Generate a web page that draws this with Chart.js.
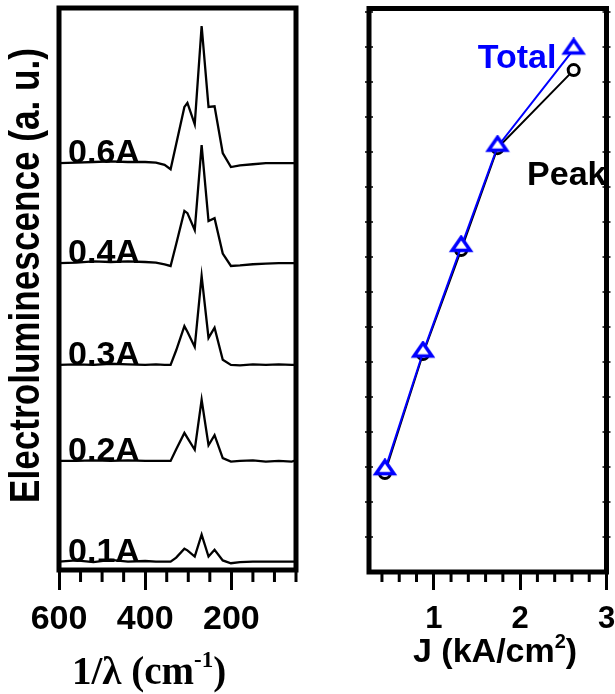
<!DOCTYPE html>
<html>
<head>
<meta charset="utf-8">
<script src="https://cdn.jsdelivr.net/npm/chart.js@4.4.1/dist/chart.umd.min.js"></script>
<style>
  html, body { margin: 0; padding: 0; background: #fff; }
  #wrap { position: relative; width: 615px; height: 694px; overflow: hidden; }
  #left { position: absolute; left: 0; top: 0; width: 320px; height: 694px; }
  #right { position: absolute; left: 340px; top: 0; width: 275px; height: 694px; }
</style>
</head>
<body>
<div id="wrap">
  <canvas id="left" width="320" height="694"></canvas>
  <canvas id="right" width="275" height="694"></canvas>
</div>
<script>
/* ── DATA: left panel, EL spectra (offset for clarity) ── */
const wavenumbers = [600, 560, 520, 480, 440, 400, 375, 355, 341, 328, 309, 302, 285, 269, 253, 239, 220, 201, 180, 150, 120, 90, 60, 50];
const currents = ['0.1A', '0.2A', '0.3A', '0.4A', '0.6A'];
const offsets = [1.5, 19.4, 36.5, 54.6, 72.4];
const el01 = [0, 0.2, -0.1, 0.3, 0, 0.1, 0, 0, 0, 0.7, 2.3, 2.0, 0.9, 4.8, 0.9, 2.1, 0.2, -0.3, -0.1, 0, 0, 0, 0, 0];
const el02 = [0, 0, 0.1, 0, 0.1, 0, 0, 0, 0, 2.1, 5.0, 4.1, 2.0, 10.9, 2.8, 4.6, 0.5, -0.1, 0, 0.1, -0.1, 0, -0.1, 0.1];
const el03 = [0, 0.1, 0, 0.2, 0.1, 0, 0.1, 0, 0, 2.6, 6.9, 5.9, 3.2, 15.8, 4.8, 6.6, 0.9, 0, -0.1, 0.1, 0, 0.1, 0, 0];
const el04 = [0, 0.1, 0.3, 0.2, 0.3, 0.2, 0.1, -0.2, -0.5, 3.4, 9.3, 8.9, 5.9, 21.0, 7.5, 8.0, 1.7, -0.5, -0.4, -0.2, -0.1, 0, 0, 0];
const el06 = [0, 0.1, 0.2, 0.3, 0.2, 0.2, 0.1, -0.3, -1.1, 3.4, 10.0, 10.7, 6.9, 24.4, 10.0, 10.1, 1.8, -0.7, -0.4, -0.2, 0, 0, 0, 0];
const spectra = [el01, el02, el03, el04, el06];
const xTicksLeft = [600, 400, 200];
const xMinorLeft = [550, 500, 450, 350, 300, 250, 150, 100, 50];

/* ── DATA: right panel, EL vs current density ── */
const currentDensity = [0.434, 0.875, 1.317, 1.738, 2.62];
const totalEL = [2.91, 6.27, 9.29, 12.15, 14.93];
const peakEL = [2.83, 6.23, 9.2, 12.11, 14.34];
const xTicksRight = [1, 2, 3];
const xMinorRight = [0.4, 0.6, 0.8, 1.2, 1.4, 1.6, 1.8, 2.2, 2.4, 2.6, 2.8];
const yTicksRight = [1, 2, 3, 4, 5, 6, 7, 8, 9, 10, 11, 12, 13, 14, 15, 16];

const SANS = '"Liberation Sans", Arial, sans-serif';
const SERIF = '"Liberation Serif", "Times New Roman", serif';

/* ── open, slightly flattened triangle marker ── */
function triangleMarker(color) {
  const c = document.createElement('canvas');
  c.width = 26; c.height = 24;
  const g = c.getContext('2d');
  g.lineWidth = 3.5;
  g.strokeStyle = color;
  g.fillStyle = '#fff';
  g.beginPath();
  g.moveTo(13, 2.5);
  g.lineTo(22, 15.5);
  g.lineTo(4, 15.5);
  g.closePath();
  g.fill();
  g.stroke();
  return c;
}

/* ── thick frame + minor ticks ── */
function framePlugin(minorX, minorLen, yTicks) {
  return {
    id: 'frame',
    afterDraw(chart) {
      const { ctx, chartArea: a, scales: { x, y } } = chart;
      ctx.save();
      ctx.strokeStyle = '#000';
      ctx.lineWidth = 3;
      ctx.beginPath();
      minorX.forEach(v => {
        const px = x.getPixelForValue(v);
        ctx.moveTo(px, a.bottom);
        ctx.lineTo(px, a.bottom + minorLen);
      });
      ctx.stroke();
      ctx.lineWidth = 1.5;
      ctx.beginPath();
      yTicks.forEach(v => {
        const py = y.getPixelForValue(v);
        ctx.moveTo(a.left - 4, py); ctx.lineTo(a.left + 4, py);
        ctx.moveTo(a.right - 4, py); ctx.lineTo(a.right + 4, py);
      });
      ctx.stroke();
      ctx.lineWidth = 5;
      ctx.strokeRect(a.left, a.top, a.right - a.left, a.bottom - a.top);
      ctx.restore();
    }
  };
}

/* ── in-plot text labels placed in data coordinates ── */
function labelPlugin(items) {
  return {
    id: 'labels',
    afterDatasetsDraw(chart) {
      const { ctx, scales: { x, y } } = chart;
      ctx.save();
      ctx.textBaseline = 'alphabetic';
      items.forEach(it => {
        ctx.font = 'bold 34px ' + SANS;
        ctx.fillStyle = it.color;
        ctx.textAlign = it.align;
        ctx.fillText(it.text, x.getPixelForValue(it.x), y.getPixelForValue(it.y));
      });
      ctx.restore();
    }
  };
}

/* ── text with superscript pieces ── */
function drawRich(ctx, parts, x, y) {
  let cx = x;
  parts.forEach(p => {
    ctx.font = p.font;
    ctx.fillText(p.t, cx, y + (p.dy || 0));
    cx += ctx.measureText(p.t).width;
  });
}

function titlePlugin(drawFn) {
  return {
    id: 'titles',
    afterDraw(chart) {
      const ctx = chart.ctx;
      ctx.save();
      ctx.fillStyle = '#000';
      ctx.textBaseline = 'alphabetic';
      ctx.textAlign = 'left';
      drawFn(ctx);
      ctx.restore();
    }
  };
}

function xScale(min, max, reverse, ticks, height, tickLength, padding, fontSize) {
  return {
    type: 'linear', min, max, reverse,
    afterBuildTicks: s => { s.ticks = ticks.map(v => ({ value: v })); },
    afterFit: s => { s.height = height; s.paddingLeft = 0; s.paddingRight = 0; },
    grid: { drawOnChartArea: false, drawTicks: true, tickLength, tickWidth: 3, tickColor: '#000' },
    border: { display: false },
    ticks: { color: '#000', padding, maxRotation: 0, autoSkip: false,
             font: { family: SANS, size: fontSize, weight: 'bold' } },
  };
}

/* ── Left: spectra ── */
new Chart(document.getElementById('left'), {
  type: 'line',
  data: {
    datasets: spectra.map((s, i) => ({
      label: currents[i],
      data: wavenumbers.map((w, j) => ({ x: w, y: s[j] + offsets[i] })),
      borderColor: '#000',
      borderWidth: 2.3,
      pointRadius: 0,
      tension: 0,
      fill: false,
    })),
  },
  options: {
    responsive: false,
    animation: false,
    layout: { padding: { left: 59, right: 24, top: 8, bottom: 0 } },
    plugins: { legend: { display: false }, tooltip: { enabled: false } },
    scales: {
      x: xScale(50, 600, true, xTicksLeft, 124, 20, 9, 34),
      y: { display: false, min: 0, max: 100 },
    },
  },
  plugins: [
    labelPlugin(currents.map((c, i) => ({ text: c, x: 579, y: offsets[i], color: '#000', align: 'left' }))),
    framePlugin(xMinorLeft, 12, []),
    titlePlugin(ctx => {
      ctx.save();
      ctx.translate(27.5, 275.5);
      ctx.rotate(-Math.PI / 2);
      ctx.scale(0.817, 1);
      ctx.font = 'bold 43px ' + SANS;
      ctx.textAlign = 'center';
      ctx.textBaseline = 'middle';
      ctx.fillText('Electroluminescence (a. u.)', 0, 0);
      ctx.restore();
      drawRich(ctx, [
        { t: '1/\u03bb (cm', font: 'bold 39px ' + SERIF },
        { t: '-1', font: 'bold 23px ' + SERIF, dy: -17 },
        { t: ')', font: 'bold 39px ' + SERIF },
      ], 72, 684);
    }),
  ],
});

/* ── Right: total / peak EL vs J ── */
new Chart(document.getElementById('right'), {
  type: 'line',
  data: {
    datasets: [
      {
        label: 'Total',
        data: currentDensity.map((j, i) => ({ x: j, y: totalEL[i] })),
        borderColor: '#0000ff',
        borderWidth: 2,
        pointStyle: triangleMarker('#0000ff'),
        tension: 0,
      },
      {
        label: 'Peak',
        data: currentDensity.map((j, i) => ({ x: j, y: peakEL[i] })),
        borderColor: '#000',
        borderWidth: 2,
        pointStyle: 'circle',
        pointRadius: 5.5,
        pointBorderWidth: 3,
        pointBackgroundColor: '#fff',
        pointBorderColor: '#000',
        tension: 0,
      },
    ],
  },
  options: {
    responsive: false,
    animation: false,
    layout: { padding: { left: 29, right: 7, top: 8, bottom: 0 } },
    plugins: { legend: { display: false }, tooltip: { enabled: false } },
    scales: {
      x: xScale(0.25, 3, false, xTicksRight, 122, 18, 11, 31),
      y: { display: false, min: 0, max: 16.1 },
    },
  },
  plugins: [
    labelPlugin([
      { text: 'Total', x: 2.42, y: 14.4, color: '#0000ff', align: 'right' },
      { text: 'Peak', x: 2.08, y: 11.06, color: '#000', align: 'left' },
    ]),
    framePlugin(xMinorRight, 10, yTicksRight),
    titlePlugin(ctx => {
      drawRich(ctx, [
        { t: 'J (kA/cm', font: 'bold 34px ' + SANS },
        { t: '2', font: 'bold 20px ' + SANS, dy: -14 },
        { t: ')', font: 'bold 34px ' + SANS },
      ], 73, 662);
    }),
  ],
});
</script>
</body>
</html>
